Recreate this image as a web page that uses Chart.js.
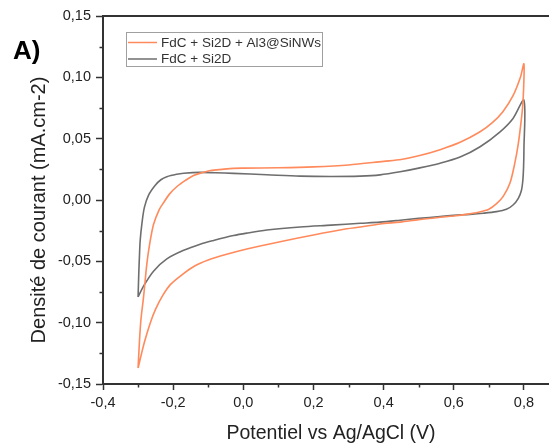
<!DOCTYPE html>
<html>
<head>
<meta charset="utf-8">
<script src="https://cdn.jsdelivr.net/npm/chart.js@4"></script>
<style>
  html, body { margin: 0; padding: 0; background: #fff; overflow: hidden; }
  #wrap { position: relative; width: 549px; height: 443px; overflow: hidden; }
  #cv { position: absolute; left: 0; top: 0; }
  #tag { position: absolute; left: 13px; top: 35px; line-height: 26px;
         font: bold 26px 'Liberation Sans', Arial, sans-serif; color: #000; }
</style>
</head>
<body>
<div id="wrap">
  <canvas id="cv" width="600" height="443"></canvas>
  <div id="tag">A)</div>
</div>
<script>
// CV loops: start at -0.3 V, anodic sweep up to 0.8 V, then back down
const labels = ['FdC + Si2D + Al3@SiNWs', 'FdC + Si2D'];
const yTitle = 'Densité de courant (mA.cm-2)';
const xTitle = 'Potentiel vs Ag/AgCl (V)';

const potA = [-0.300, -0.296, -0.292, -0.284, -0.275, -0.267, -0.256, -0.240, -0.227, -0.210,
  -0.189, -0.165, -0.142, -0.115, -0.094, -0.060, -0.028, 0.000, 0.100, 0.200,
  0.300, 0.400, 0.450, 0.500, 0.561, 0.618, 0.675, 0.710, 0.740, 0.769,
  0.790, 0.800,
  0.799, 0.796, 0.792, 0.784, 0.774, 0.760, 0.741, 0.722, 0.700, 0.670,
  0.640, 0.600, 0.561, 0.500, 0.447, 0.390, 0.334, 0.295, 0.200, 0.105,
  0.010, -0.050, -0.100, -0.140, -0.175, -0.208, -0.230, -0.250, -0.265, -0.280,
  -0.290, -0.300];
const curA = [-0.137, -0.115, -0.098, -0.078, -0.052, -0.036, -0.020, -0.008, -0.002, 0.005,
  0.011, 0.016, 0.020, 0.0225, 0.024, 0.025, 0.0258, 0.026, 0.0263, 0.027,
  0.0285, 0.0315, 0.033, 0.036, 0.041, 0.047, 0.0556, 0.063, 0.072, 0.085,
  0.100, 0.111,
  0.090, 0.075, 0.064, 0.046, 0.030, 0.0136, 0.003, -0.003, -0.0075, -0.010,
  -0.0115, -0.013, -0.0141, -0.016, -0.018, -0.0195, -0.022, -0.0235, -0.0285, -0.034,
  -0.040, -0.0445, -0.049, -0.054, -0.061, -0.069, -0.078, -0.089, -0.100, -0.114,
  -0.125, -0.137];

const potB = [-0.300, -0.298, -0.296, -0.294, -0.289, -0.282, -0.270, -0.251, -0.235, -0.218,
  -0.190, -0.170, -0.123, -0.080, -0.028, 0.067, 0.162, 0.250, 0.333, 0.390,
  0.447, 0.500, 0.561, 0.618, 0.675, 0.732, 0.769, 0.800,
  0.800, 0.799, 0.797, 0.793, 0.784, 0.769, 0.750, 0.722, 0.684, 0.646,
  0.600, 0.561, 0.500, 0.447, 0.390, 0.334, 0.250, 0.162, 0.067, 0.010,
  -0.028, -0.085, -0.123, -0.170, -0.218, -0.256, -0.284, -0.300];
const curB = [-0.079, -0.060, -0.045, -0.033, -0.019, -0.006, 0.004, 0.012, 0.0165, 0.019,
  0.021, 0.0218, 0.0225, 0.0222, 0.0217, 0.0206, 0.0195, 0.0192, 0.0195, 0.0205,
  0.023, 0.026, 0.030, 0.035, 0.0434, 0.0556, 0.0665, 0.0814,
  0.0407, 0.027, 0.0163, 0.008, 0.0014, -0.0041, -0.0076, -0.0095, -0.0108, -0.0117,
  -0.0125, -0.0135, -0.015, -0.0165, -0.018, -0.019, -0.0205, -0.022, -0.0245, -0.027,
  -0.029, -0.033, -0.036, -0.041, -0.048, -0.058, -0.070, -0.079];

const xMinor = [-0.3, -0.1, 0.1, 0.3, 0.5, 0.7];
const yMinor = [-0.125, -0.075, -0.025, 0.025, 0.075, 0.125];

const FONT = "'Liberation Sans', Arial, sans-serif";
const fmt = (v, d) => (Math.abs(v) < 1e-9 ? 0 : v).toFixed(d).replace('.', ',');
const pts = (xs, ys) => xs.map((x, i) => ({ x: x, y: ys[i] }));

// minor ticks, frame, y title and the boxed legend
const extras = {
  id: 'extras',
  afterDraw(chart) {
    const ctx = chart.ctx;
    const xs = chart.scales.x, ys = chart.scales.y;
    const a = chart.chartArea;
    ctx.save();
    ctx.strokeStyle = '#333';
    ctx.lineWidth = 1.5;
    ctx.beginPath();
    xMinor.forEach(v => {
      const p = Math.round(xs.getPixelForValue(v)) + 0.5;
      ctx.moveTo(p, a.bottom); ctx.lineTo(p, a.bottom + 3.5);
    });
    yMinor.forEach(v => {
      const p = Math.round(ys.getPixelForValue(v)) + 0.5;
      ctx.moveTo(a.left - 3.5, p); ctx.lineTo(a.left, p);
    });
    ctx.stroke();
    ctx.lineWidth = 2;
    ctx.beginPath();
    ctx.moveTo(a.left, a.top); ctx.lineTo(a.right, a.top);
    ctx.moveTo(a.right, a.top); ctx.lineTo(a.right, a.bottom);
    ctx.stroke();

    // y axis title, sits a little below the axis middle in the original
    ctx.save();
    ctx.translate(39, (a.top + a.bottom) / 2 + 10);
    ctx.rotate(-Math.PI / 2);
    ctx.font = '20px ' + FONT;
    ctx.fillStyle = '#222';
    ctx.textAlign = 'center';
    ctx.textBaseline = 'middle';
    ctx.fillText(yTitle, 0, 0);
    ctx.restore();

    // legend
    const bx = 126.5, by = 32.5, bw = 196, bh = 34;
    ctx.fillStyle = '#fff';
    ctx.fillRect(bx, by, bw, bh);
    ctx.strokeStyle = '#a0a0a0';
    ctx.lineWidth = 1;
    ctx.strokeRect(bx, by, bw, bh);
    ctx.font = '13.5px ' + FONT;
    ctx.textBaseline = 'middle';
    chart.data.datasets.forEach((ds, i) => {
      const y = 42.5 + i * 16.5;
      ctx.strokeStyle = ds.borderColor;
      ctx.lineWidth = 1.5;
      ctx.beginPath();
      ctx.moveTo(128, y); ctx.lineTo(157, y);
      ctx.stroke();
      ctx.fillStyle = '#333';
      ctx.fillText(ds.label, 161, y + 0.5);
    });
    ctx.restore();
  }
};

new Chart(document.getElementById('cv'), {
  type: 'scatter',
  data: {
    datasets: [
      { label: labels[0], data: pts(potA, curA), showLine: true, borderColor: '#ff8a5c',
        borderWidth: 1.6, pointRadius: 0, tension: 0.3 },
      { label: labels[1], data: pts(potB, curB), showLine: true, borderColor: '#6e6e6e',
        borderWidth: 1.6, pointRadius: 0, tension: 0.3 }
    ]
  },
  options: {
    responsive: false,
    animation: false,
    layout: { padding: { left: 0, top: 16, right: 41, bottom: 0 } },
    plugins: { legend: { display: false }, tooltip: { enabled: false } },
    scales: {
      x: {
        type: 'linear', min: -0.4, max: 0.9,
        afterFit(s) { s.height = 59; },
        border: { display: true, color: '#333', width: 2 },
        grid: { drawOnChartArea: false, drawTicks: true, tickLength: 6, tickColor: '#333', tickWidth: 1.5 },
        ticks: { stepSize: 0.2, includeBounds: false, padding: 4, color: '#222', maxRotation: 0,
          autoSkip: false, font: { family: FONT, size: 14.5 }, callback: v => fmt(v, 1) },
        title: { display: true, text: xTitle, color: '#222',
          font: { family: FONT, size: 19.5 }, padding: { top: 0, bottom: -2 } }
      },
      y: {
        type: 'linear', min: -0.15, max: 0.15,
        afterFit(s) { s.width = 103; },
        border: { display: true, color: '#333', width: 2 },
        grid: { drawOnChartArea: false, drawTicks: true, tickLength: 7, tickColor: '#333', tickWidth: 1.5 },
        ticks: { stepSize: 0.05, padding: 5, color: '#222', autoSkip: false,
          font: { family: FONT, size: 14.5 }, callback: v => fmt(v, 2) }
      }
    }
  },
  plugins: [extras]
});
</script>
</body>
</html>
